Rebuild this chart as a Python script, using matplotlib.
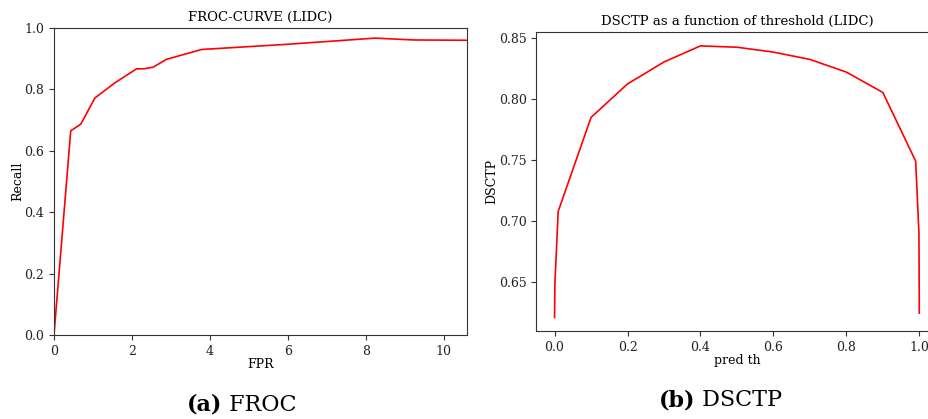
import matplotlib
matplotlib.use("Agg")
import matplotlib.pyplot as plt

# FROC curve
fpr = [0.0, 0.43, 0.69, 1.05, 1.56, 2.12, 2.3, 2.54, 2.89, 3.79, 6.0, 8.24, 9.23, 10.6]
recall = [0.0, 0.665, 0.687, 0.772, 0.821, 0.867, 0.867, 0.872, 0.898, 0.930, 0.947, 0.967, 0.961, 0.960]

# DSCTP vs prediction threshold
pred_th = [0.0, 0.001, 0.01, 0.1, 0.2, 0.3, 0.4, 0.5, 0.6, 0.7, 0.8, 0.9, 0.99, 0.999, 1.0]
dsctp = [0.621, 0.649, 0.708, 0.785, 0.8125, 0.8305, 0.8437, 0.8426, 0.8386, 0.8326, 0.8222, 0.8055, 0.7492, 0.690, 0.6245]

plt.rcParams["font.family"] = "DejaVu Serif"
plt.rcParams["font.size"] = 9

fig = plt.figure(figsize=(9.29, 4.19), dpi=100)

# Left panel: FROC
ax1 = fig.add_axes([0.0581, 0.2005, 0.4446, 0.7327])
ax1.plot(fpr, recall, color="red", linewidth=1.2)
ax1.set_xlim(0, max(fpr))
ax1.set_ylim(0, 1.0)
ax1.set_title("FROC-CURVE (LIDC)", fontsize=9.5, pad=5)
ax1.set_xlabel("FPR", labelpad=0.5)
ax1.set_ylabel("Recall", labelpad=0)

# Right panel: DSCTP vs threshold (cropped on the right in the reference)
ax2 = fig.add_axes([0.5773, 0.21, 0.4319, 0.7129])
ax2.plot(pred_th, dsctp, color="red", linewidth=1.2)
ax2.set_xticks([0.0, 0.2, 0.4, 0.6, 0.8, 1.0])
ax2.set_yticks([0.65, 0.70, 0.75, 0.80, 0.85])
ax2.set_title("DSCTP as a function of threshold (LIDC)", fontsize=9.5, pad=5)
ax2.set_xlabel("pred th", labelpad=0.5)
ax2.set_ylabel("DSCTP", labelpad=0)

for ax in (ax1, ax2):
    for s in ax.spines.values():
        s.set_color("#333333")
        s.set_linewidth(0.8)
    ax.tick_params(colors="#333333", labelcolor="#222222", length=3.5, width=0.8)

# Sub-captions: bold label + regular name
fig.text(0.239, 0.020, "(a)", fontsize=16, ha="right", va="baseline", fontweight="bold")
fig.text(0.239, 0.020, " FROC", fontsize=16, ha="left", va="baseline")
fig.text(0.748, 0.031, "(b)", fontsize=16, ha="right", va="baseline", fontweight="bold")
fig.text(0.748, 0.031, " DSCTP", fontsize=16, ha="left", va="baseline")

fig.savefig("out.png", dpi=100)
